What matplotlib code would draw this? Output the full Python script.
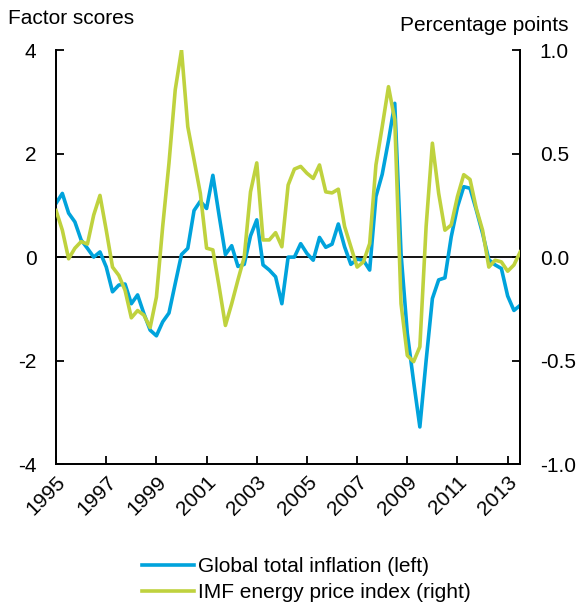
import matplotlib
matplotlib.use("Agg")
import matplotlib.pyplot as plt
import numpy as np

plt.rcParams['font.family'] = ['Liberation Sans', 'DejaVu Sans']
plt.rcParams['axes.unicode_minus'] = False

# kwartalne dane, 1995Q1 - 2013Q3
start_rok = 1995
inflacja = [1.04, 1.23, 0.85, 0.68, 0.33, 0.17, 0.0, 0.1, -0.19, -0.67,
            -0.54, -0.52, -0.9, -0.73, -1.09, -1.41, -1.52, -1.25, -1.08, -0.51,
            0.05, 0.17, 0.9, 1.08, 0.94, 1.58, 0.8, 0.05, 0.22, -0.18,
            -0.14, 0.41, 0.72, -0.15, -0.25, -0.38, -0.9, 0.0, 0.0, 0.26,
            0.07, -0.06, 0.38, 0.19, 0.25, 0.64, 0.2, -0.14, -0.04, -0.06,
            -0.25, 1.17, 1.6, 2.25, 2.97, 0.07, -1.47, -2.4, -3.28, -2.0,
            -0.8, -0.44, -0.4, 0.39, 0.97, 1.36, 1.33, 0.91, 0.46, -0.05,
            -0.15, -0.22, -0.75, -1.03, -0.93]
energia = [0.225, 0.13, -0.008, 0.043, 0.075, 0.063, 0.203, 0.298, 0.13, -0.048,
           -0.088, -0.16, -0.293, -0.258, -0.28, -0.34, -0.193, 0.148, 0.453, 0.808,
           1.0, 0.63, 0.47, 0.308, 0.043, 0.035, -0.143, -0.33, -0.225, -0.11,
           0.0, 0.315, 0.455, 0.083, 0.083, 0.118, 0.05, 0.348, 0.425, 0.438,
           0.405, 0.38, 0.445, 0.315, 0.31, 0.328, 0.148, 0.05, -0.048, -0.023,
           0.065, 0.445, 0.63, 0.823, 0.663, -0.225, -0.475, -0.505, -0.433, 0.148,
           0.55, 0.308, 0.13, 0.155, 0.293, 0.398, 0.375, 0.235, 0.13, -0.048,
           -0.015, -0.023, -0.068, -0.038, 0.025]
lata = [1995, 1997, 1999, 2001, 2003, 2005, 2007, 2009, 2011, 2013]
lewe_ticki = [4, 2, 0, -2, -4]
prawe_ticki = ["1.0", "0.5", "0.0", "-0.5", "-1.0"]

niebieski = '#00A3DC'
zielony = '#BFD23E'
rozmiar = 15

x = start_rok + np.arange(len(inflacja)) / 4.0

fig = plt.figure(figsize=(5.78, 6.10), dpi=100)
ax = fig.add_axes([0.097, 0.239, 0.803, 0.679])
ax2 = ax.twinx()  # zielona linia na wierzchu

ax.axhline(0, color='black', lw=1.3, zorder=1)
l1, = ax.plot(x, inflacja, color=niebieski, lw=2.6, label='Global total inflation (left)', zorder=3)
l2, = ax2.plot(x, energia, color=zielony, lw=2.6, label='IMF energy price index (right)', zorder=3)

ax.set_xlim(1995, 2013.5)
ax.set_ylim(-4, 4)
ax2.set_ylim(-1, 1)

ax.set_yticks(lewe_ticki)
ax.set_yticklabels([str(t) for t in lewe_ticki], fontsize=rozmiar)
ax2.set_yticks([1.0, 0.5, 0.0, -0.5, -1.0])
ax2.set_yticklabels(prawe_ticki, fontsize=rozmiar)
ax.set_xticks(lata)
ax.set_xticklabels([str(r) for r in lata], fontsize=rozmiar, rotation=45,
                   ha='right', rotation_mode='anchor')

ax.tick_params(axis='y', direction='in', length=6, width=1.3, pad=14)
ax2.tick_params(axis='y', direction='in', length=6, width=1.3, pad=14)
ax.tick_params(axis='x', direction='in', length=6, width=1.3, pad=6)

for a in (ax, ax2):
    a.spines['top'].set_visible(False)
    for s in ('left', 'right', 'bottom'):
        a.spines[s].set_linewidth(1.3)

fig.text(0.014, 0.97, 'Factor scores', fontsize=rozmiar, ha='left', va='center')
fig.text(0.983, 0.958, 'Percentage points', fontsize=rozmiar, ha='right', va='center')

fig.legend(handles=[l1, l2], loc='lower center', bbox_to_anchor=(0.53, -0.018),
           frameon=False, fontsize=rozmiar, handlelength=2.5, handletextpad=0.2,
           labelspacing=0.35)

plt.savefig('out.png', dpi=100)
